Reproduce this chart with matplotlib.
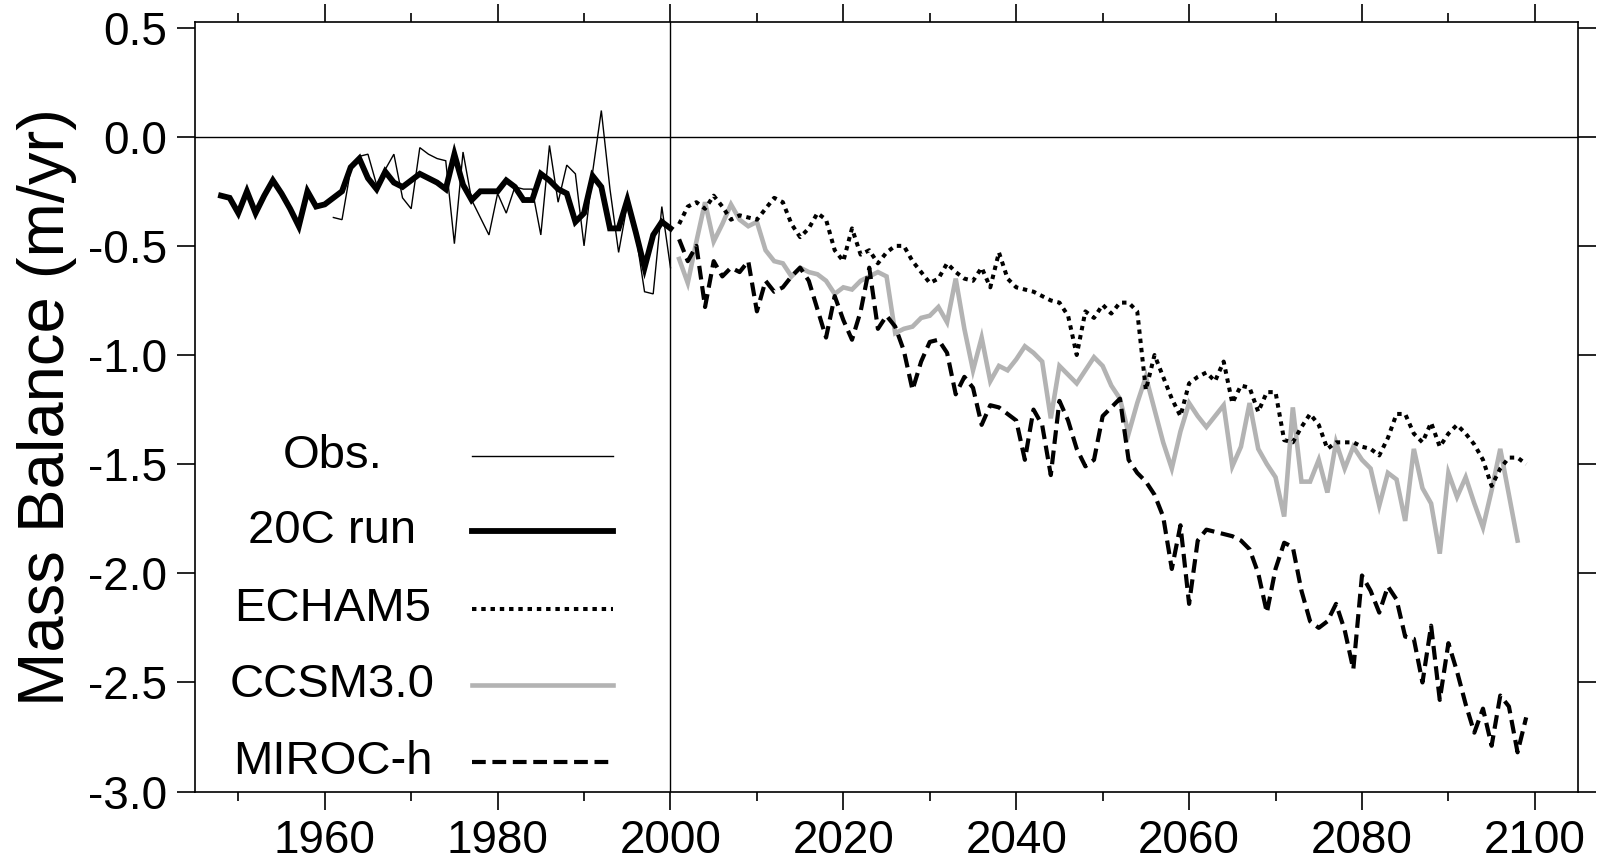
import numpy as np
import matplotlib
matplotlib.use("Agg")
import matplotlib.pyplot as plt
from matplotlib.ticker import MultipleLocator, FormatStrFormatter

# --- DATA (annual values in m/yr) ---
RUN20C_START = 1948
run20c = [-0.27, -0.28, -0.35, -0.25, -0.35, -0.27, -0.20, -0.26, -0.33, -0.41,
          -0.25, -0.32, -0.31, -0.28, -0.25, -0.14, -0.10, -0.19, -0.24, -0.16,
          -0.21, -0.23, -0.20, -0.17, -0.19, -0.21, -0.24, -0.08, -0.22, -0.29,
          -0.25, -0.25, -0.25, -0.20, -0.23, -0.29, -0.29, -0.17, -0.20, -0.24,
          -0.26, -0.39, -0.35, -0.18, -0.23, -0.42, -0.42, -0.29, -0.44, -0.60,
          -0.45, -0.39, -0.42]

OBS_START = 1961
obs = [-0.37, -0.38, -0.15, -0.09, -0.08, -0.22, -0.15, -0.08, -0.28, -0.33,
       -0.05, -0.08, -0.10, -0.11, -0.49, -0.07, -0.29, -0.37, -0.45, -0.26,
       -0.35, -0.23, -0.24, -0.24, -0.45, -0.04, -0.30, -0.13, -0.17, -0.50,
       -0.16, 0.12, -0.24, -0.53, -0.31, -0.45, -0.71, -0.72, -0.32, -0.60]

PROJ_START = 2001
echam5 = [-0.40, -0.32, -0.30, -0.33, -0.27, -0.32, -0.38, -0.36, -0.37, -0.38,
          -0.33, -0.28, -0.30, -0.40, -0.46, -0.42, -0.35, -0.38, -0.52, -0.57,
          -0.42, -0.54, -0.52, -0.58, -0.53, -0.50, -0.50, -0.57, -0.62, -0.67,
          -0.65, -0.58, -0.62, -0.65, -0.66, -0.60, -0.69, -0.53, -0.65, -0.69,
          -0.70, -0.71, -0.73, -0.75, -0.76, -0.82, -1.00, -0.80, -0.83, -0.77,
          -0.81, -0.76, -0.76, -0.80, -1.16, -1.00, -1.10, -1.20, -1.28, -1.13,
          -1.10, -1.08, -1.12, -1.03, -1.22, -1.14, -1.15, -1.26, -1.17, -1.17,
          -1.39, -1.40, -1.33, -1.27, -1.32, -1.43, -1.40, -1.40, -1.40, -1.42,
          -1.43, -1.46, -1.38, -1.27, -1.27, -1.36, -1.40, -1.31, -1.42, -1.36,
          -1.32, -1.36, -1.41, -1.48, -1.60, -1.52, -1.47, -1.47, -1.50]

ccsm3 = [-0.56, -0.67, -0.48, -0.30, -0.48, -0.40, -0.31, -0.38, -0.41, -0.39,
         -0.52, -0.57, -0.58, -0.64, -0.60, -0.62, -0.63, -0.66, -0.72, -0.69,
         -0.70, -0.66, -0.64, -0.62, -0.64, -0.90, -0.88, -0.87, -0.83, -0.82,
         -0.78, -0.85, -0.65, -0.88, -1.07, -0.92, -1.12, -1.05, -1.07, -1.02,
         -0.96, -0.99, -1.03, -1.29, -1.05, -1.09, -1.13, -1.07, -1.01, -1.05,
         -1.14, -1.20, -1.36, -1.22, -1.10, -1.25, -1.40, -1.52, -1.35, -1.22,
         -1.28, -1.33, -1.28, -1.23, -1.51, -1.42, -1.22, -1.43, -1.50, -1.56,
         -1.74, -1.24, -1.58, -1.58, -1.48, -1.63, -1.40, -1.52, -1.42, -1.48,
         -1.52, -1.69, -1.54, -1.57, -1.76, -1.43, -1.61, -1.68, -1.91, -1.54,
         -1.65, -1.56, -1.68, -1.79, -1.62, -1.43, -1.64, -1.85]

miroc_h = [-0.47, -0.57, -0.50, -0.78, -0.57, -0.64, -0.60, -0.62, -0.57, -0.80,
           -0.66, -0.71, -0.69, -0.64, -0.60, -0.66, -0.79, -0.92, -0.73, -0.84,
           -0.93, -0.80, -0.60, -0.88, -0.82, -0.87, -0.98, -1.16, -1.03, -0.94,
           -0.93, -0.99, -1.18, -1.10, -1.15, -1.32, -1.23, -1.24, -1.27, -1.30,
           -1.48, -1.25, -1.32, -1.55, -1.21, -1.30, -1.43, -1.51, -1.48, -1.28,
           -1.24, -1.20, -1.48, -1.54, -1.58, -1.64, -1.74, -1.98, -1.78, -2.14,
           -1.85, -1.80, -1.81, -1.82, -1.83, -1.85, -1.89, -2.00, -2.18, -1.98,
           -1.86, -1.88, -2.08, -2.22, -2.25, -2.22, -2.14, -2.26, -2.44, -2.01,
           -2.08, -2.18, -2.06, -2.12, -2.29, -2.30, -2.50, -2.24, -2.58, -2.32,
           -2.45, -2.60, -2.73, -2.62, -2.79, -2.56, -2.61, -2.82, -2.66]

legend_labels = ["Obs.", "20C run", "ECHAM5", "CCSM3.0", "MIROC-h"]

# --- STYLES ---
plt.rcParams['font.family'] = ['Liberation Sans', 'DejaVu Sans']
plt.rcParams['axes.unicode_minus'] = False

styles = {
    "Obs.":    dict(color='black', lw=1.0, zorder=6),
    "20C run": dict(color='black', lw=4.2, zorder=5),
    "ECHAM5":  dict(color='black', lw=2.9, dashes=(1.1, 1.2), zorder=4),
    "CCSM3.0": dict(color='#b3b3b3', lw=3.3, zorder=2),
    "MIROC-h": dict(color='black', lw=3.0, dashes=(3.3, 1.6), zorder=3),
}

series = {
    "Obs.": (OBS_START, obs),
    "20C run": (RUN20C_START, run20c),
    "ECHAM5": (PROJ_START, echam5),
    "CCSM3.0": (PROJ_START, ccsm3),
    "MIROC-h": (PROJ_START, miroc_h),
}

# --- FIGURE ---
fig = plt.figure(figsize=(15.99, 8.64), dpi=100)
ax = fig.add_axes([0.122, 0.0838, 0.8649, 0.8906])

ax.axhline(0.0, color='black', lw=1.0, zorder=1)
ax.axvline(2000, color='black', lw=1.0, zorder=1)

for name, (start, vals) in series.items():
    years = np.arange(start, start + len(vals))
    ax.plot(years, vals, solid_joinstyle='miter', **styles[name])

ax.set_xlim(1945, 2105)
ax.set_ylim(-3.0, 0.525)

ax.xaxis.set_major_locator(MultipleLocator(20))
ax.xaxis.set_minor_locator(MultipleLocator(10))
ax.yaxis.set_major_locator(MultipleLocator(0.5))
ax.yaxis.set_major_formatter(FormatStrFormatter('%.1f'))

ax.tick_params(which='both', direction='out', top=True, right=True,
               width=1.2, labelsize=33, pad=7)
ax.tick_params(which='major', length=13)
ax.tick_params(which='minor', length=6.5)
for sp in ax.spines.values():
    sp.set_linewidth(1.2)

ax.set_ylabel("Mass Balance (m/yr)", fontsize=47, labelpad=8)

# --- LEGEND (drawn by hand: centred labels, key to the right) ---
LEG_TEXT_X = 0.0994
LEG_KEY_X = (0.200, 0.3025)
LEG_ROWS_Y = [0.436, 0.339, 0.2375, 0.1385, 0.0385]
for label, ly in zip(legend_labels, LEG_ROWS_Y):
    ax.text(LEG_TEXT_X, ly, label, transform=ax.transAxes, fontsize=34,
            ha='center', va='center')
    ax.plot(LEG_KEY_X, [ly, ly], transform=ax.transAxes, clip_on=False,
            **styles[label])

fig.savefig("out.png", dpi=100)
